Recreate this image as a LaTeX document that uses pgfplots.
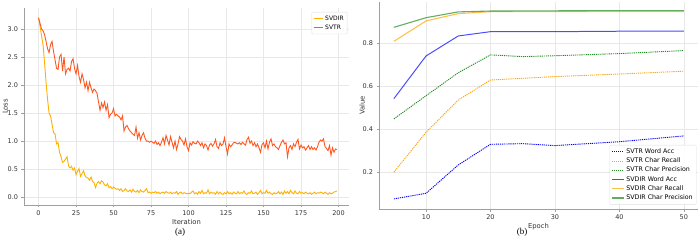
\documentclass[border=0pt]{standalone}
\usepackage{fontspec}
\setmainfont{DejaVu Sans}
\newfontfamily\capfont{Liberation Serif}
\usepackage{pgfplots}
\pgfplotsset{compat=1.18}
\definecolor{cDir}{HTML}{FFB000}
\definecolor{cTr}{HTML}{FF5722}
\definecolor{cBlue}{HTML}{0000FF}
\definecolor{cOr}{HTML}{FFA500}
\definecolor{cGr}{HTML}{228B22}
\pgfplotsset{
  mystyle/.style={
    scale only axis,
    anchor=south west,
    /pgf/number format/assume math mode=true,
    axis x line*=bottom, axis y line*=left,
    axis line style={draw=gray!75, line width=1pt},
    tick style={draw=gray!75, line width=0.6pt},
    tick align=outside, major tick length=2.5bp,
    grid=major, major grid style={draw=gray!18, line width=0.5pt},
    ticklabel style={font=\fontsize{6.5bp}{7bp}\selectfont, text=black!80},
    label style={font=\fontsize{6.8bp}{8bp}\selectfont, text=black!80},
    legend style={font=\fontsize{6bp}{7bp}\selectfont, draw=gray!25, rounded corners=1pt, inner sep=1.5pt, row sep=-1pt, fill=white, fill opacity=0.9, text opacity=1},
    legend cell align=left,
  }
}
\begin{document}
\begin{tikzpicture}
\useasboundingbox (0,0) rectangle (700bp,241bp);
\begin{axis}[mystyle,
  at={(24bp,36bp)}, width=325bp, height=197bp,
  xmin=-9.7, xmax=207, ymin=-0.14, ymax=3.375,
  xtick={0,25,...,200}, ytick={0,0.5,...,3.0},
  yticklabel style={/pgf/number format/.cd, fixed, fixed zerofill, precision=1},
  xlabel={Iteration}, ylabel={Loss},
  xlabel style={yshift=3bp},
  ylabel style={at={(axis description cs:-0.058,0.5)}, anchor=center},
  legend style={at={(0.995,0.98)}, anchor=north east},
  legend image code/.code={\draw[#1, line width=1pt] (0bp,0bp) -- (9bp,0bp);},
]
\addplot[cDir, line width=0.9pt] table {
0 3.20
1 3.05
2 2.88
3 2.72
4 2.40
5 2.05
6 1.75
7 1.50
8 1.45
9 1.30
10 1.15
11 1.13
12 0.95
13 0.97
14 0.80
15 0.72
16 0.62
17 0.64
18 0.68
19 0.72
20 0.56
21 0.52
22 0.55
23 0.48
24 0.52
25 0.40
26 0.46
27 0.51
28 0.37
29 0.42
30 0.47
31 0.38
32 0.35
33 0.34
34 0.30
35 0.36
36 0.28
37 0.26
38 0.17
39 0.25
40 0.28
41 0.24
42 0.29
43 0.27
44 0.22
45 0.20
46 0.24
47 0.17
48 0.19
49 0.15
50 0.18
51 0.16
52 0.14
53 0.15
54 0.12
55 0.15
56 0.10
57 0.12
58 0.15
59 0.11
60 0.10
61 0.13
62 0.09
63 0.14
64 0.10
65 0.09
66 0.12
67 0.08
68 0.13
69 0.10
70 0.09
71 0.12
72 0.15
73 0.08
74 0.09
75 0.07
76 0.09
77 0.08
78 0.10
79 0.07
80 0.09
81 0.06
82 0.08
83 0.09
84 0.07
85 0.10
86 0.08
87 0.07
88 0.09
89 0.06
90 0.08
91 0.07
92 0.10
93 0.05
94 0.08
95 0.09
96 0.06
97 0.08
98 0.07
99 0.06
100 0.07
101 0.06
102 0.09
103 0.11
104 0.06
105 0.08
106 0.05
107 0.10
108 0.07
109 0.12
110 0.06
111 0.08
112 0.07
113 0.13
114 0.06
115 0.09
116 0.07
117 0.08
118 0.05
119 0.10
120 0.06
121 0.09
122 0.06
123 0.05
124 0.08
125 0.06
126 0.10
127 0.06
128 0.08
129 0.05
130 0.09
131 0.07
132 0.06
133 0.10
134 0.06
135 0.08
136 0.07
137 0.11
138 0.06
139 0.05
140 0.08
141 0.07
142 0.11
143 0.06
144 0.07
145 0.09
146 0.05
147 0.08
148 0.12
149 0.06
150 0.08
151 0.07
152 0.12
153 0.07
154 0.09
155 0.06
156 0.05
157 0.08
158 0.06
159 0.07
160 0.10
161 0.06
162 0.09
163 0.05
164 0.11
165 0.07
166 0.10
167 0.06
168 0.12
169 0.08
170 0.06
171 0.11
172 0.07
173 0.06
174 0.10
175 0.07
176 0.08
177 0.06
178 0.09
179 0.07
180 0.06
181 0.08
182 0.05
183 0.07
184 0.09
185 0.06
186 0.08
187 0.07
188 0.09
189 0.08
190 0.06
191 0.09
192 0.07
193 0.05
194 0.08
195 0.06
196 0.07
197 0.09
198 0.10
199 0.11
};
\addlegendentry{SVDIR}
\addplot[cTr, line width=0.9pt] table {
0 3.20
1 3.10
2 3.00
3 2.97
4 2.90
5 2.78
6 2.65
7 2.58
8 2.72
9 2.78
10 2.60
11 2.45
12 2.30
13 2.28
14 2.50
15 2.55
16 2.25
17 2.50
18 2.20
19 2.28
20 2.30
21 2.25
22 2.42
23 2.47
24 2.30
25 2.20
26 2.35
27 2.15
28 2.05
29 2.20
30 2.10
31 1.95
32 2.05
33 1.90
34 2.05
35 1.95
36 1.87
37 1.93
38 1.90
39 1.85
40 1.70
41 1.55
42 1.68
43 1.60
44 1.70
45 1.55
46 1.65
47 1.42
48 1.48
49 1.50
50 1.58
51 1.45
52 1.48
53 1.45
54 1.43
55 1.38
56 1.45
57 1.18
58 1.25
59 1.28
60 1.22
61 1.18
62 1.15
63 1.12
64 1.10
65 1.25
66 1.05
67 1.15
68 1.02
69 1.10
70 1.15
71 1.05
72 1.00
73 1.00
74 0.98
75 1.00
76 0.98
77 0.96
78 1.00
79 0.94
80 0.97
81 0.92
82 0.98
83 1.06
84 0.95
85 1.10
86 1.02
87 0.93
88 1.08
89 0.98
90 0.88
91 1.00
92 0.85
93 0.95
94 1.08
95 1.03
96 1.00
97 0.93
98 1.04
99 0.90
100 0.83
101 0.97
102 0.93
103 0.99
104 0.96
105 0.95
106 1.00
107 0.97
108 0.92
109 0.97
110 0.88
111 0.95
112 0.92
113 0.84
114 0.93
115 0.96
116 0.91
117 0.95
118 1.03
119 0.90
120 0.87
121 0.97
122 0.92
123 0.95
124 1.06
125 0.90
126 0.77
127 0.95
128 0.90
129 0.93
130 0.97
131 0.98
132 0.96
133 0.95
134 0.97
135 0.94
136 0.98
137 0.95
138 0.93
139 1.03
140 1.07
141 0.96
142 1.00
143 0.92
144 0.97
145 0.90
146 0.95
147 0.88
148 0.80
149 0.94
150 0.97
151 0.88
152 1.00
153 0.86
154 0.98
155 1.04
156 0.92
157 0.95
158 0.90
159 0.88
160 0.85
161 0.92
162 0.98
163 1.02
164 0.95
165 0.97
166 0.72
167 0.88
168 0.92
169 0.85
170 0.95
171 0.90
172 0.98
173 1.03
174 0.86
175 0.93
176 0.88
177 0.90
178 0.84
179 0.88
180 0.92
181 0.85
182 0.90
183 0.85
184 0.88
185 0.84
186 0.90
187 0.98
188 1.02
189 1.00
190 1.04
191 0.90
192 0.87
193 0.83
194 0.92
195 0.75
196 0.88
197 0.80
198 0.86
199 0.85
};
\addlegendentry{SVTR}
\end{axis}
\begin{axis}[mystyle,
  at={(379bp,32bp)}, width=319bp, height=207bp,
  xmin=2.7, xmax=52.2, ymin=0.029, ymax=0.992,
  xtick={10,20,30,40,50}, ytick={0.2,0.4,0.6,0.8},
  yticklabel style={/pgf/number format/.cd, fixed, fixed zerofill, precision=1},
  xlabel={Epoch}, ylabel={Value},
  xlabel style={yshift=3bp},
  ylabel style={at={(axis description cs:-0.053,0.5)}, anchor=center},
  legend style={at={(0.995,0.02)}, anchor=south east, font=\fontsize{6.3bp}{7bp}\selectfont},
  legend image code/.code={\draw[#1] (0bp,0bp) -- (12bp,0bp);},
]
\addplot[cBlue, line width=0.9pt, dash pattern=on 1.2pt off 0.9pt] coordinates {(5,0.076) (10,0.102) (15,0.234) (20,0.330) (25,0.333) (30,0.324) (40,0.342) (50,0.369)};
\addlegendentry{SVTR Word Acc}
\addplot[cOr, line width=0.9pt, dash pattern=on 1.2pt off 0.9pt] coordinates {(5,0.200) (10,0.386) (15,0.536) (20,0.629) (30,0.645) (40,0.657) (50,0.670)};
\addlegendentry{SVTR Char Recall}
\addplot[cGr, line width=0.9pt, dash pattern=on 1.2pt off 0.9pt] coordinates {(5,0.448) (10,0.556) (15,0.663) (20,0.746) (25,0.738) (30,0.742) (40,0.752) (50,0.766)};
\addlegendentry{SVTR Char Precision}
\addplot[cBlue, opacity=0.7, line width=1pt] coordinates {(5,0.542) (10,0.741) (15,0.834) (20,0.854) (30,0.854) (40,0.856) (50,0.857)};
\addlegendentry{SVDIR Word Acc}
\addplot[cOr, opacity=0.7, line width=1.1pt] coordinates {(5,0.809) (10,0.904) (15,0.938) (20,0.947) (30,0.947) (40,0.947) (50,0.947)};
\addlegendentry{SVDIR Char Recall}
\addplot[cGr, opacity=0.7, line width=1.1pt] coordinates {(5,0.874) (10,0.919) (15,0.946) (20,0.950) (30,0.951) (40,0.952) (50,0.952)};
\addlegendentry{SVDIR Char Precision}
\end{axis}
\node[font=\capfont\fontsize{9bp}{10bp}\selectfont] at (180bp,9bp) {(a)};
\node[font=\capfont\fontsize{9bp}{10bp}\selectfont] at (522bp,9bp) {(b)};
\end{tikzpicture}
\end{document}
